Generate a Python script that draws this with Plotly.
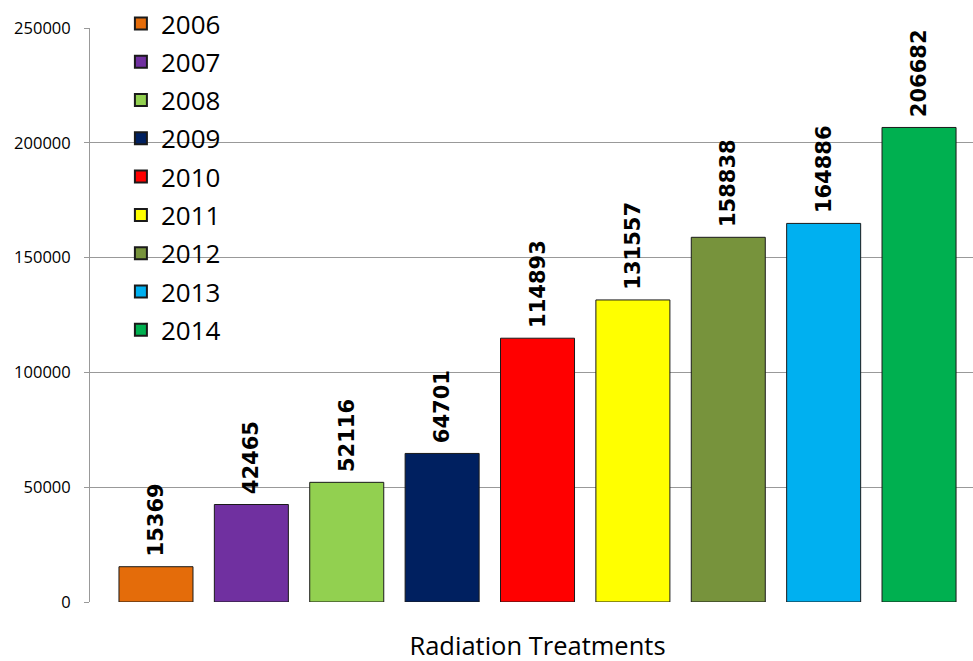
import plotly.graph_objects as go

years = ["2006", "2007", "2008", "2009", "2010", "2011", "2012", "2013", "2014"]
values = [15369, 42465, 52116, 64701, 114893, 131557, 158838, 164886, 206682]
colors = ["#E46C0A", "#7030A0", "#92D050", "#002060", "#FF0000", "#FFFF00", "#77933C", "#00B0F0", "#00B050"]
category = ["Radiation Treatments"]

fig = go.Figure()
for y, v, c in zip(years, values, colors):
    fig.add_trace(go.Bar(
        x=category, y=[v], name=y, legendgroup=y,
        marker=dict(color=c, line=dict(color="#1a1a1a", width=1)),
        text=["\u00a0" + str(v)], textposition="outside", textangle=-90,
        constraintext="none",
        textfont=dict(family="DejaVu Sans", size=21, color="black", weight="bold"),
        cliponaxis=False,
    ))

fig.update_layout(
    width=973, height=661,
    margin=dict(l=90, r=0, t=28, b=59, autoexpand=False),
    paper_bgcolor="white", plot_bgcolor="white",
    barmode="group", bargap=0.0, bargroupgap=0.224,
    font=dict(family="Open Sans", color="black"),
    showlegend=True,
    legend=dict(x=0.035, y=1.003, yref="container", xanchor="left", yanchor="top",
                font=dict(size=26, color="black"), bgcolor="rgba(0,0,0,0)",
                tracegroupgap=1.5, itemsizing="constant", maxheight=1000),
)
fig.update_xaxes(range=[-0.5213, 0.5073], showgrid=False, ticks="",
                 tickfont=dict(size=25.5, color="black"), showline=False,
                 ticklabelstandoff=26)
fig.update_yaxes(range=[0, 250000], dtick=50000, showgrid=True, gridcolor="#999999",
                 gridwidth=1, showline=True, linecolor="#999999", ticks="outside",
                 ticklen=5, tickcolor="#999999", tickfont=dict(size=16.5, color="black"),
                 ticklabelstandoff=10, zeroline=False, tickformat="d")

fig.write_html("out.html", config={"displayModeBar": False},
               post_script="document.body.style.margin='0px';")
